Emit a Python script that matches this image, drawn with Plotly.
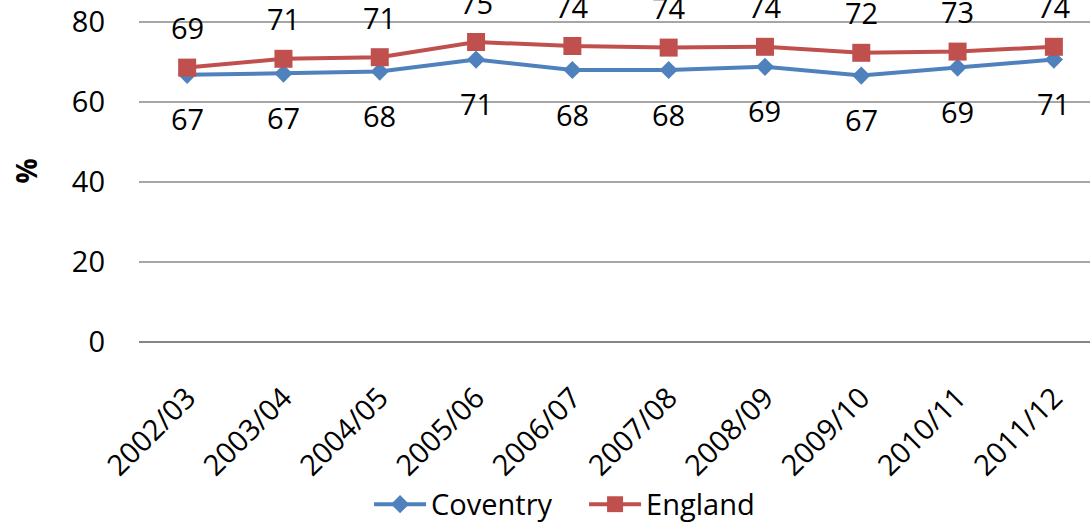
import plotly.graph_objects as go

years = ["2002/03", "2003/04", "2004/05", "2005/06", "2006/07",
         "2007/08", "2008/09", "2009/10", "2010/11", "2011/12"]
coventry = [66.8, 67.1, 67.6, 70.6, 68.0, 68.0, 68.8, 66.6, 68.6, 70.6]
england = [68.6, 70.8, 71.2, 75.0, 74.0, 73.6, 73.8, 72.3, 72.6, 73.8]
coventry_labels = [67, 67, 68, 71, 68, 68, 69, 67, 69, 71]
england_labels = [69, 71, 71, 75, 74, 74, 74, 72, 73, 74]
y_ticks = [0, 20, 40, 60, 80]

FONT = "Open Sans"
BLUE = "#4F81BD"
RED = "#C0504D"

fig = go.Figure()
fig.add_trace(go.Scatter(
    x=years, y=coventry, name="Coventry", mode="lines+markers",
    line=dict(color=BLUE, width=4),
    marker=dict(symbol="diamond", size=14, color=BLUE),
))
fig.add_trace(go.Scatter(
    x=years, y=england, name="England", mode="lines+markers",
    line=dict(color=RED, width=4),
    marker=dict(symbol="square", size=18, color=RED),
))

for x, y, t in zip(years, coventry, coventry_labels):
    fig.add_annotation(x=x, y=y, text=str(t), showarrow=False, yshift=-44,
                       font=dict(family=FONT, size=29, color="black"))
for x, y, t in zip(years, england, england_labels):
    fig.add_annotation(x=x, y=y, text=str(t), showarrow=False, yshift=40,
                       font=dict(family=FONT, size=29, color="black"))

fig.update_layout(
    width=1090, height=522,
    margin=dict(l=139, r=0, t=0, b=180, autoexpand=False),
    paper_bgcolor="white", plot_bgcolor="white",
    font=dict(family=FONT, size=29, color="black"),
    showlegend=True,
    legend=dict(orientation="h", x=0.468, xanchor="center", y=-0.40, yanchor="top",
                font=dict(family=FONT, size=29), itemwidth=52, entrywidth=148,
                bgcolor="rgba(0,0,0,0)"),
    xaxis=dict(
        type="category", range=[-0.5, 9.375], automargin=False,
        tickangle=-45, showgrid=False, showline=False, zeroline=False,
        ticks="", ticklabelstandoff=32,
        tickfont=dict(family=FONT, size=29),
    ),
    yaxis=dict(
        range=[0, 85.5], tickvals=y_ticks, showgrid=True, automargin=False,
        gridcolor="#A6A6A6", gridwidth=1.5, zeroline=True,
        zerolinecolor="#868686", zerolinewidth=1.5, showline=False,
        ticks="", ticklabelstandoff=33,
        tickfont=dict(family=FONT, size=29),
        title=dict(text="<b>%</b>", standoff=26, font=dict(family=FONT, size=28)),
    ),
)

fig.write_html("out.html", config={"displayModeBar": False},
               post_script="document.body.style.margin='0';")
